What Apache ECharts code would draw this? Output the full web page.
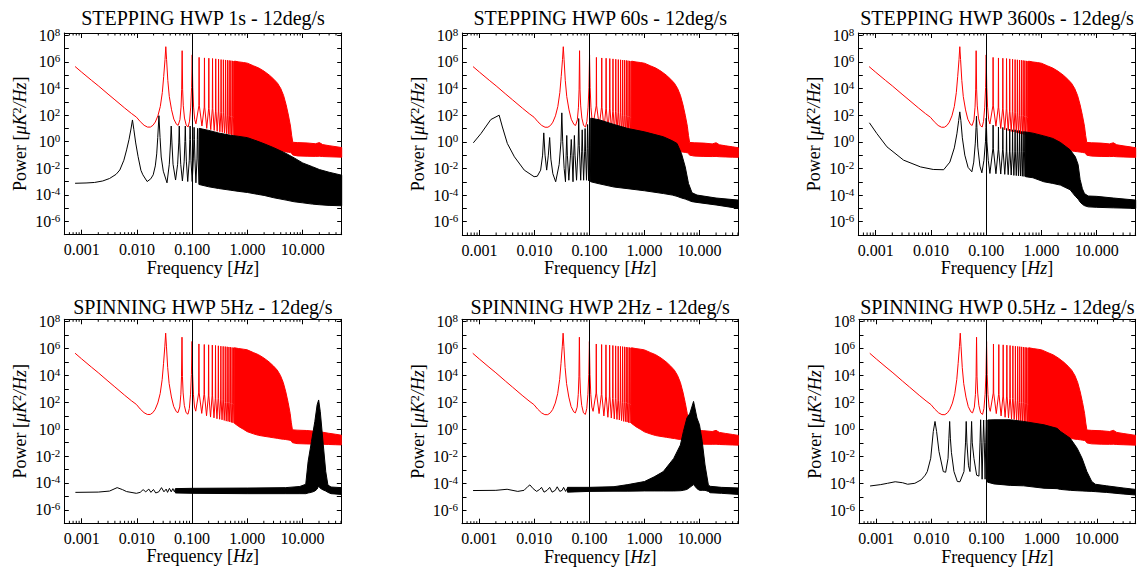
<!DOCTYPE html>
<html><head><meta charset="utf-8">
<script src="https://cdn.jsdelivr.net/npm/echarts@6/dist/echarts.min.js"></script>
<style>html,body{margin:0;padding:0;background:#fff}#c{width:1146px;height:567px}</style>
</head><body><div id="c"></div>
<script>
// ---------------- DATA ----------------
const titles = ['STEPPING HWP 1s - 12deg/s','STEPPING HWP 60s - 12deg/s','STEPPING HWP 3600s - 12deg/s',
                'SPINNING HWP 5Hz - 12deg/s','SPINNING HWP 2Hz - 12deg/s','SPINNING HWP 0.5Hz - 12deg/s'];
const xTickDecades = [-3,-2,-1,0,1];
const xTickLabels = ['0.001','0.010','0.100','1.000','10.000'];
const xMinorTicks = [0.0006,0.0007,0.0008,0.0009,0.002,0.003,0.004,0.005,0.006,0.007,0.008,0.009,
  0.02,0.03,0.04,0.05,0.06,0.07,0.08,0.09,0.2,0.3,0.4,0.5,0.6,0.7,0.8,0.9,2,3,4,5,6,7,8,9,20,30,40,50];
const markerFreq = 0.1;
const xRange = [0.000485, 50.7];
const yRange = [1e-7, 1.5e8];

// red curve (common to all panels): line part [f, P]
const redLine = [
[0.00076,4.5e5],[0.001,1.7e5],[0.0015,4.2e4],[0.002,1.6e4],[0.003,3.8e3],[0.004,1.4e3],[0.006,3.4e2],[0.008,1.3e2],[0.0098,70],[0.0115,32],[0.0135,17],[0.0155,12.5],[0.0175,12.5],[0.0195,17],[0.0215,30],[0.024,90],[0.0265,450],[0.0288,5e3],[0.0305,8e4],[0.0322,1.5e6],[0.0333,1.4e7],[0.0344,1.5e6],[0.0362,4e4],[0.0385,2.5e3],[0.0423,250],[0.0465,50],[0.052,20],[0.0557,17],[0.06,45],[0.0628,400],[0.0645,8e3],[0.0658,7e6],[0.0671,8e3],[0.069,500],[0.0725,60],[0.078,17],[0.0845,13],[0.0895,35],[0.094,400],[0.0975,1.2e4],[0.1,3.4e6],[0.1025,1.2e4],[0.106,400],[0.111,45],[0.1167,22],
[0.132,5e2],[0.1333,2.2e6],[0.1347,5e2],[0.15,15],
[0.165,4e2],[0.1667,2.0e6],[0.1683,4e2],[0.1833,10],
[0.198,3e2],[0.2,1.9e6],[0.202,3e2],[0.2167,8],
[0.231,3e2],[0.2333,1.8e6],[0.2357,3e2],[0.25,7],
[0.264,2e2],[0.2667,1.7e6],[0.2693,2e2],[0.2833,6],
[0.297,2e2],[0.3,1.6e6],[0.303,2e2],[0.3167,5.5],
[0.330,1.5e2],[0.3333,1.5e6],[0.3367,1.5e2],[0.35,5],
[0.363,1.5e2],[0.3667,1.45e6],[0.3703,1.5e2],[0.3833,4.5],
[0.396,1e2],[0.4,1.4e6],[0.404,1e2],[0.4167,4],
[0.429,1e2],[0.4333,1.35e6],[0.4377,1e2],[0.45,3.8],
[0.462,1e2],[0.4667,1.3e6],[0.4713,1e2],[0.4833,3.5],
[0.495,80],[0.5,1.25e6],[0.505,80],[0.5167,3.2],
[0.528,80],[0.5333,1.2e6],[0.5387,80],[0.55,3],
[0.561,70],[0.5667,1.15e6],[0.5723,70],[0.5833,2.8]
];
// red dense band [f, low, high]
const redBand = [
[0.5833,2.8,1.15e6],[0.7,1.6,1.0e6],[0.85,1.0,9e5],[1.0,0.66,8e5],[1.3,0.45,5e5],[1.6,0.35,3.5e5],[2.0,0.3,2e5],[2.5,0.26,1e5],[3.0,0.23,5e4],[3.5,0.21,2.5e4],[4.0,0.19,1e4],[4.5,0.18,3e3],[5.0,0.17,6e2],[5.5,0.16,1e2],[6.0,0.15,15],[6.3,0.13,3],[6.6,0.1,0.9],[8,0.085,0.85],[12,0.08,0.8],[17,0.078,0.7],[20,0.08,0.85],[23,0.076,0.6],[30,0.073,0.5],[40,0.07,0.42],[50.7,0.068,0.36]
];

// black curves, one per panel
const black1Line = [
[0.00076,7.4e-4],[0.0012,7.8e-4],[0.0017,8.5e-4],[0.0024,1.1e-3],[0.0032,1.7e-3],[0.0042,3.5e-3],[0.0049,7.4e-3],[0.0058,0.04],[0.0065,0.24],[0.0072,1.5],[0.0078,9],[0.0083,43],[0.0088,8],[0.0095,0.8],[0.0105,0.074],[0.0118,7e-3],[0.0128,3.2e-3],[0.0153,1e-3],[0.0178,1.6e-3],[0.0197,3.2e-3],[0.0215,0.015],[0.0228,0.12],[0.0238,2],[0.025,90],[0.0262,2],[0.0275,0.07],[0.03,6e-3],[0.035,8e-4],
[0.0385,0.02],[0.0405,0.8],[0.0417,15],[0.043,0.8],[0.045,0.02],[0.05,1.3e-3],
[0.0545,0.02],[0.0572,0.8],[0.0583,15],[0.0595,0.8],[0.062,0.02],[0.0665,1.1e-3],
[0.0715,0.03],[0.0738,1],[0.075,15],[0.0762,1],[0.0785,0.03],[0.083,1e-3],
[0.0885,0.04],[0.0905,1.5],[0.0917,15],[0.0929,1.5],[0.095,0.04],[0.1,1e-3],
[0.105,0.05],[0.107,1.5],[0.1083,12],[0.1096,1.5],[0.112,0.05],[0.1167,8e-4],
[0.122,0.05],[0.1237,1.5],[0.125,10],[0.1263,1.5],[0.128,0.05],[0.1333,6e-4]
];
const black1Band = [
[0.1333,6e-4,10],[0.2,4e-4,7],[0.3,3e-4,4.5],[0.5,2.2e-4,3],[0.7,1.8e-4,2.5],[1.0,1.5e-4,2],[1.5,1.1e-4,1.1],[2.0,9e-5,0.7],[3.0,6e-5,0.35],[5.0,4e-5,0.13],[7,3e-5,0.06],[10,2.5e-5,0.025],[15,2e-5,0.013],[20,1.8e-5,8e-3],[30,1.6e-5,5e-3],[50.7,1.5e-5,3e-3]
];
const black2Line = [
[0.00077,0.84],[0.00106,4.2],[0.0016,47],[0.00227,100],[0.0026,13],[0.0032,0.75],[0.0043,0.075],[0.0065,7.5e-3],[0.0098,2.4e-3],[0.0112,2.6e-3],[0.0129,7.5e-3],[0.014,0.1],[0.0147,4.7],[0.0155,0.1],[0.0166,7.5e-3],[0.0178,0.1],[0.0188,2.1],[0.0198,0.05],[0.0215,4e-3],[0.0242,1e-3],[0.028,0.02],[0.0302,1],[0.0313,150],[0.0325,1],[0.0345,0.01],[0.0365,1e-3],
[0.0375,0.1],[0.0385,3],[0.0395,0.1],[0.042,1.3e-3],[0.045,0.1],[0.0465,1.5],[0.048,0.1],[0.05,1e-3],[0.0515,0.1],[0.053,3],[0.0545,0.1],[0.058,1.3e-3],[0.062,0.5],[0.0635,56],[0.065,0.5],[0.069,1.3e-3],[0.072,0.2],[0.0735,8],[0.075,0.2],[0.078,1.3e-3],[0.0815,0.2],[0.083,10],[0.0845,0.2],[0.088,1.3e-3],[0.0905,0.3],[0.092,20],[0.0935,0.3],[0.096,1.2e-3],[0.098,0.5],[0.1,60],[0.102,0.5],[0.105,1e-3]
];
const black2Band = [
[0.105,1e-3,60],[0.15,7e-4,45],[0.28,4e-4,20],[0.5,3e-4,10],[1.0,2.1e-4,5.6],[2.2,1.3e-4,2.4],[3.2,1e-4,1.2],[3.9,8e-5,0.75],[4.7,6e-5,0.13],[5.5,5e-5,0.013],[6.3,4e-5,7.5e-4],[7.3,3.2e-5,1.5e-4],[9,2.8e-5,1e-4],[20,1.8e-5,6e-5],[50.7,1e-5,4.2e-5]
];
const black3Line = [
[0.00077,27],[0.00105,4.2],[0.0016,0.42],[0.0032,0.042],[0.0065,0.013],[0.011,8.4e-3],[0.017,8e-3],[0.022,0.03],[0.0265,0.35],[0.0295,4],[0.0318,40],[0.0333,178],[0.0348,40],[0.037,2],[0.041,0.1],[0.047,0.012],[0.055,5.6e-3],[0.0595,0.03],[0.0635,0.8],[0.0655,12],[0.0667,84],[0.0679,12],[0.0705,0.4],[0.077,0.015],[0.0835,4.7e-3],[0.091,0.04],[0.097,1],[0.0988,12],[0.1,60],[0.1012,12],[0.103,1],[0.109,0.04],[0.1167,4.2e-3],
[0.132,0.3],[0.1333,18],[0.1347,0.3],[0.15,4e-3],
[0.165,0.25],[0.1667,13],[0.1683,0.25],[0.1833,3.8e-3],
[0.198,0.25],[0.2,12],[0.202,0.25],[0.2167,3.6e-3],
[0.231,0.2],[0.2333,10],[0.2357,0.2],[0.25,3.4e-3],
[0.264,0.2],[0.2667,9],[0.2693,0.2],[0.2833,3.2e-3],
[0.297,0.2],[0.3,8],[0.303,0.2],[0.3167,3e-3],
[0.330,0.2],[0.3333,8],[0.3367,0.2],[0.35,2.9e-3],
[0.363,0.2],[0.3667,7],[0.3703,0.2],[0.3833,2.8e-3],
[0.396,0.2],[0.4,7],[0.404,0.2],[0.4167,2.7e-3],
[0.429,0.2],[0.4333,6],[0.4377,0.2],[0.45,2.6e-3],
[0.462,0.2],[0.4667,6],[0.4713,0.2],[0.4833,2.5e-3],
[0.495,0.2],[0.5,6],[0.505,0.2],[0.5167,2.4e-3]
];
const black3Band = [
[0.5167,2.4e-3,5.5],[0.7,2e-3,4.5],[1.1,1e-3,2.8],[1.6,7.5e-4,1.8],[2.2,5.6e-4,0.9],[3.3,2.5e-4,0.25],[4.1,8e-5,0.075],[4.6,5e-5,0.02],[5.0,3e-5,1.5e-3],[5.5,2e-5,3e-4],[6.0,1.6e-5,1.3e-4],[7,1.3e-5,8.5e-5],[10,1.2e-5,8e-5],[20,1.1e-5,6e-5],[50.7,1e-5,4.2e-5]
];
const black4Line = [
[0.00077,2e-5],[0.002,2.1e-5],[0.0032,2.5e-5],[0.0044,4.5e-5],[0.0055,3.2e-5],[0.0065,2.3e-5],[0.0098,1.7e-5],[0.0115,2e-5],[0.013,3.2e-5],[0.0145,2.2e-5],[0.0165,3.5e-5],[0.018,2e-5],[0.02,3.3e-5],[0.022,1.8e-5],[0.025,2.2e-5],[0.028,4.5e-5],[0.031,2.2e-5],[0.034,3.5e-5],[0.036,2e-5],[0.039,4e-5],[0.042,2.2e-5],[0.045,3.8e-5],[0.048,2.2e-5],[0.05,3.6e-5]
];
const black4Band = [
[0.05,1.8e-5,3.8e-5],[0.1,1.7e-5,4e-5],[1,1.6e-5,4.2e-5],[5,1.6e-5,4.5e-5],[9,1.6e-5,5.5e-5],[11.5,1.6e-5,8e-5],[12.7,1.8e-5,4e-3],[14.6,2e-5,0.12],[16.8,2.5e-5,3.7],[18.5,3.5e-5,65],[19.7,6e-5,150],[21.1,4e-5,20],[23.9,3e-5,0.07],[26.5,2.5e-5,7e-4],[29,2e-5,7e-5],[33,1.6e-5,5e-5],[50.7,1.4e-5,4.5e-5]
];
const black5Line = [
[0.00077,2.9e-5],[0.002,3e-5],[0.0032,3.6e-5],[0.005,2.5e-5],[0.0065,3e-5],[0.0077,6e-5],[0.0083,7.6e-5],[0.0095,4e-5],[0.011,2.5e-5],[0.0125,3.5e-5],[0.0135,5e-5],[0.015,2.2e-5],[0.017,3e-5],[0.019,5e-5],[0.021,2.2e-5],[0.024,3e-5],[0.026,5.5e-5],[0.029,2.5e-5],[0.032,3e-5],[0.034,5e-5],[0.037,2.5e-5],[0.04,4.5e-5]
];
const black5Band = [
[0.04,2.2e-5,5e-5],[0.1,2.5e-5,5e-5],[0.28,2.6e-5,5.6e-5],[0.5,2.6e-5,8e-5],[1,2.7e-5,1.35e-4],[1.5,2.7e-5,3e-4],[2.2,2.7e-5,7.4e-4],[3.4,2.7e-5,7e-3],[4.5,2.8e-5,0.07],[5.1,3e-5,0.7],[5.9,3.5e-5,7],[6.7,5e-5,16],[7.8,8e-5,120],[9.0,4e-5,7],[10,3e-5,2.2],[11.2,3e-5,0.13],[12.6,3e-5,2.3e-3],[14.5,2.5e-5,7.6e-5],[15.6,2e-5,6e-5],[25,1.8e-5,5e-5],[50.7,1.5e-5,4.5e-5]
];
const black6Line = [
[0.00077,6.3e-5],[0.0012,8e-5],[0.0016,1e-4],[0.0022,1.3e-4],[0.003,1.1e-4],[0.0037,8.5e-5],[0.005,1e-4],[0.0065,1.8e-4],[0.0077,4e-4],[0.0084,7.4e-4],[0.0097,7.2e-3],[0.0108,0.7],[0.0116,3.9],[0.0124,0.7],[0.0137,0.023],[0.0164,7.4e-4],[0.0181,6.6e-4],[0.02,7.2e-3],[0.0207,0.2],[0.0214,3.9],[0.0221,0.2],[0.023,0.02],[0.0256,7.4e-4],[0.0295,1.35e-4],[0.0329,1.3e-4],[0.0389,7.4e-4],[0.0415,0.1],[0.0427,3.9],[0.044,0.1],[0.047,2e-3],[0.05,7.4e-4],[0.052,0.1],[0.0535,3.9],[0.055,0.1],[0.059,7e-3],[0.066,4e-4],[0.0726,3.4e-4],[0.076,0.1],[0.078,5.2],[0.08,0.1],[0.083,2e-4],[0.086,0.1],[0.0885,5],[0.091,0.1],[0.094,2e-4],[0.0965,0.1],[0.099,5],[0.1015,0.1],[0.105,1.2e-4]
];
const black6Band = [
[0.105,1.2e-4,5],[0.136,9e-5,5.2],[0.27,7e-5,5.2],[0.47,6.5e-5,3.9],[1.1,4.3e-5,2.2],[1.9,4e-5,1.2],[2.2,3.5e-5,0.7],[3.3,3e-5,0.22],[4.4,2.8e-5,0.04],[5.4,2.7e-5,7.2e-3],[6.6,2.6e-5,7.4e-4],[8.1,2.5e-5,1.35e-4],[9.4,2.4e-5,8.5e-5],[15,2.1e-5,6.5e-5],[30,1.6e-5,4.5e-5],[50.7,1.35e-5,3.5e-5]
];

const blackLines = [black1Line,black2Line,black3Line,black4Line,black5Line,black6Line];
const blackBands = [black1Band,black2Band,black3Band,black4Band,black5Band,black6Band];

// ---------------- LAYOUT ----------------
const grids = [
 {left:64.3, top:33, width:277.4, height:201.7},
 {left:462.3, top:33, width:276, height:202},
 {left:858.3, top:33, width:277.4, height:202},
 {left:64.3, top:319.3, width:277, height:204},
 {left:462, top:319.3, width:276.3, height:204.4},
 {left:859, top:319.3, width:276.7, height:204.4}
];
const titleTops = [8,8,8,296.5,296.5,296.5];
const FONT = 'Liberation Serif';
const LOG = Math.log10;
const xMinL = LOG(xRange[0]), xMaxL = LOG(xRange[1]);
const yMinL = LOG(yRange[0]), yMaxL = LOG(yRange[1]);
const toLog = arr => arr.map(p => [LOG(p[0]), LOG(p[1])]);

function xLabel(v){
  const i = xTickDecades.findIndex(d => Math.abs(d - v) < 1e-6);
  return i >= 0 ? xTickLabels[i] : '';
}
function yLabel(v){
  const r = Math.round(v);
  if (Math.abs(r - v) > 1e-6 || r % 2 !== 0) return '';
  return '{b|10}{s|' + (r < 0 ? '-' + (-r) : r) + '}';
}
const black = '#000';
const xAxes = [], yAxes = [], series = [], titleArr = [];
grids.forEach((g, i) => {
  titleArr.push({text: titles[i], left: g.left + g.width/2, top: titleTops[i], textAlign: 'center', padding: 0,
    textStyle: {fontFamily: FONT, fontSize: 20, fontWeight: 'normal', color: black}});
  const common = {gridIndex: i, type: 'value', min: xMinL, max: xMaxL, splitLine: {show: false},
    axisLine: {show: true, onZero: false, lineStyle: {color: black, width: 1}},
    axisTick: {show: true, inside: true, length: 5, lineStyle: {color: black, width: 1}}};
  xAxes.push(Object.assign({}, common, {position: 'bottom',
    axisLabel: {show: true, showMinLabel: false, showMaxLabel: false, margin: 7, formatter: xLabel,
      fontFamily: FONT, fontSize: 16, color: black},
    name: '{n|Frequency [}{i|Hz}{n|]}', nameLocation: 'middle', nameGap: 24,
    nameTextStyle: {fontFamily: FONT, fontSize: 18, color: black,
      rich: {n: {fontFamily: FONT, fontSize: 18, color: black}, i: {fontFamily: FONT, fontSize: 18, fontStyle: 'italic', color: black}}}}));
  xAxes.push(Object.assign({}, common, {position: 'top', axisLabel: {show: false}}));
  const ycommon = {gridIndex: i, type: 'value', min: yMinL, max: yMaxL, interval: 1, splitLine: {show: false},
    axisLine: {show: true, onZero: false, lineStyle: {color: black, width: 1}},
    axisTick: {show: true, inside: true, length: 4.5, lineStyle: {color: black, width: 1}}};
  yAxes.push(Object.assign({}, ycommon, {position: 'left',
    axisLabel: {show: true, margin: 4, formatter: yLabel, showMaxLabel: false,
      rich: {b: {fontFamily: FONT, fontSize: 16, color: black, lineHeight: 18},
             s: {fontFamily: FONT, fontSize: 11, color: black, verticalAlign: 'top', lineHeight: 18}}},
    name: '{n|Power [}{i|μK}{s|2}{i|/Hz}{n|]}', nameLocation: 'middle', nameGap: 35,
    nameTextStyle: {fontFamily: FONT, fontSize: 18, color: black,
      rich: {n: {fontFamily: FONT, fontSize: 18, color: black}, i: {fontFamily: FONT, fontSize: 18, fontStyle: 'italic', color: black},
             s: {fontFamily: FONT, fontSize: 12, color: black, verticalAlign: 'top'}}}}));
  yAxes.push(Object.assign({}, ycommon, {position: 'right', axisLabel: {show: false}}));

  const xi = 2*i, yi = 2*i;
  series.push({type: 'line', xAxisIndex: xi, yAxisIndex: yi, data: toLog(redLine), showSymbol: false, symbol: 'none',
    lineStyle: {color: '#ff0000', width: 1}, silent: true, clip: true, z: 2});
  series.push(bandSeries(xi, yi, redBand, '#ff0000', 2));
  series.push(bandSeries(xi, yi, blackBands[i], black, 3));
  series.push({type: 'line', xAxisIndex: xi, yAxisIndex: yi, data: toLog(blackLines[i]), showSymbol: false, symbol: 'none',
    lineStyle: {color: black, width: 1}, silent: true, clip: true, z: 3,
    markLine: {silent: true, symbol: 'none', label: {show: false}, animation: false,
      lineStyle: {color: black, width: 1, type: 'solid'}, data: [{xAxis: LOG(markerFreq)}]}});
  series.push(minorTicks(xi, yi));
});

function bandSeries(xi, yi, band, color, z){
  return {type: 'custom', xAxisIndex: xi, yAxisIndex: yi, silent: true, clip: true, z: z,
    data: [[LOG(band[0][0]), LOG(band[0][1])]],
    renderItem: (params, api) => {
      const up = band.map(b => api.coord([LOG(b[0]), LOG(b[2])]));
      const lo = band.map(b => api.coord([LOG(b[0]), LOG(b[1])])).reverse();
      return {type: 'polygon', shape: {points: up.concat(lo)}, style: {fill: color, stroke: color, lineWidth: 1}};
    }};
}
function minorTicks(xi, yi){
  return {type: 'custom', xAxisIndex: xi, yAxisIndex: yi, silent: true, clip: false, z: 5,
    data: [[xMinL, yMinL]],
    renderItem: (params, api) => {
      const children = [];
      xMinorTicks.forEach(v => {
        const lx = LOG(v);
        if (lx <= xMinL || lx >= xMaxL) return;
        const b = api.coord([lx, yMinL]), t = api.coord([lx, yMaxL]);
        children.push({type: 'line', shape: {x1: b[0], y1: b[1], x2: b[0], y2: b[1] - 2.5}, style: {stroke: black, lineWidth: 1}});
        children.push({type: 'line', shape: {x1: t[0], y1: t[1], x2: t[0], y2: t[1] + 2.5}, style: {stroke: black, lineWidth: 1}});
      });
      return {type: 'group', children: children};
    }};
}

const chart = echarts.init(document.getElementById('c'), null, {renderer: 'svg', width: 1146, height: 567});
chart.setOption({
  animation: false,
  backgroundColor: '#fff',
  textStyle: {fontFamily: FONT},
  title: titleArr,
  grid: grids.map(g => Object.assign({containLabel: false, outerBoundsMode: 'none'}, g)),
  xAxis: xAxes, yAxis: yAxes, series: series
});
</script></body></html>
